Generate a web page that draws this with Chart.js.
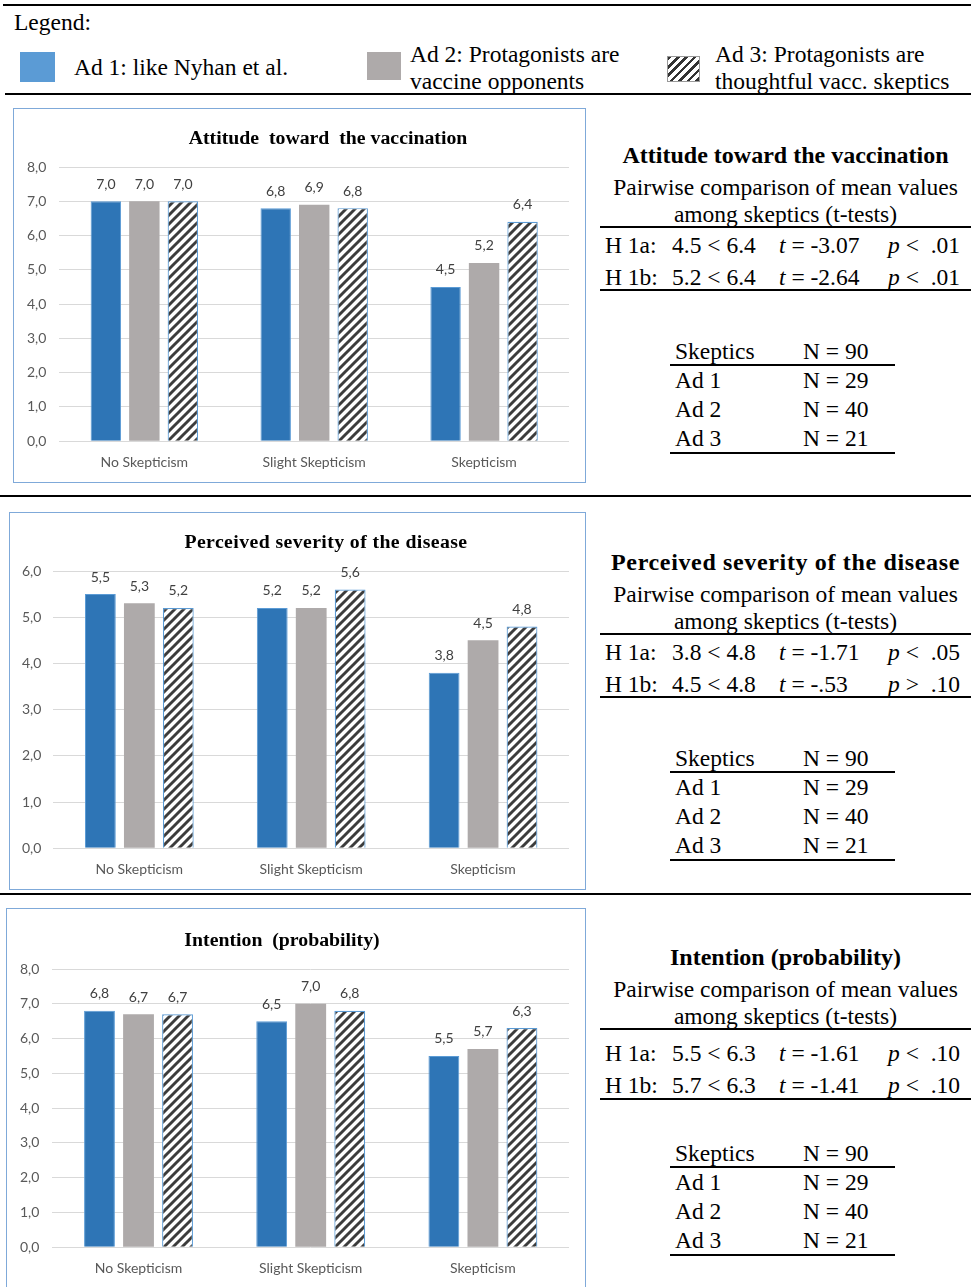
<!DOCTYPE html>
<html>
<head>
<meta charset="utf-8">
<script src="https://cdn.jsdelivr.net/npm/chart.js"></script>
<style>
  body { margin: 0; background: #fff; }
  #page { position: relative; width: 971px; height: 1287px; overflow: hidden; font-family: 'Liberation Serif', 'Times New Roman', serif; color: #000; }
  .abs { position: absolute; white-space: pre; }
  .line { position: absolute; background: #000; }
  .box { position: absolute; border: 1px solid #7fa9d9; box-sizing: border-box; }
  .box canvas { position: absolute; left: 0; top: 0; }
  .ctitle { position: absolute; width: 440px; text-align: center; font-weight: bold; font-size: 19.8px; line-height: 22px; white-space: pre; }
  .t { position: absolute; font-size: 23.5px; line-height: 26px; white-space: pre; }
</style>
</head>
<body>
<div id="page">
  <div class="line" style="left:3px;top:4px;width:968px;height:1.5px"></div>
  <div class="t" style="left:14px;top:9px">Legend:</div>
  <div class="abs" style="left:20px;top:52px;width:35px;height:30px;background:#5b9bd5"></div>
  <div class="t" style="left:74px;top:54px">Ad 1: like Nyhan et al.</div>
  <div class="abs" style="left:367px;top:52px;width:34px;height:28px;background:#aeaaaa"></div>
  <div class="t" style="left:410px;top:41px">Ad 2: Protagonists are</div>
  <div class="t" style="left:410px;top:68px">vaccine opponents</div>
  <div class="abs" style="left:667px;top:56px;width:33px;height:26px;box-sizing:border-box;border:1.5px solid #999;background:repeating-linear-gradient(135deg,#333 0 2.5px,#fff 2.5px 6px)"></div>
  <div class="t" style="left:715px;top:41px">Ad 3: Protagonists are</div>
  <div class="t" style="left:715px;top:68px">thoughtful vacc. skeptics</div>
  <div class="line" style="left:5px;top:93px;width:966px;height:1.5px"></div>
  <div class="line" style="left:0px;top:495px;width:971px;height:1.5px"></div>
  <div class="line" style="left:0px;top:893px;width:971px;height:1.5px"></div>

  <div class="box" id="box1" style="left:13px;top:108px;width:573px;height:375px"><canvas id="graf1" width="573" height="375"></canvas></div>
  <div class="box" id="box2" style="left:9px;top:512px;width:577px;height:378px"><canvas id="graf2" width="577" height="378"></canvas></div>
  <div class="box" id="box3" style="left:6px;top:908px;width:580px;height:381px"><canvas id="graf3" width="580" height="381"></canvas></div>

  <div class="ctitle" style="left:108px;top:126px">Attitude  toward  the vaccination</div>
  <div class="ctitle" style="left:106px;top:530px;letter-spacing:0.4px">Perceived severity of the disease</div>
  <div class="ctitle" style="left:62px;top:928px">Intention  (probability)</div>
</div>

<script>
const categorias = ['No Skepticism', 'Slight Skepticism', 'Skepticism'];
const seriesNombres = ['Ad 1: like Nyhan et al.', 'Ad 2: Protagonists are vaccine opponents', 'Ad 3: Protagonists are thoughtful vacc. skeptics'];

// Attitude toward the vaccination
const actitudAd1 = [7.0, 6.8, 4.5];
const actitudAd2 = [7.0, 6.9, 5.2];
const actitudAd3 = [7.0, 6.8, 6.4];

// Perceived severity of the disease
const severidadAd1 = [5.5, 5.2, 3.8];
const severidadAd2 = [5.3, 5.2, 4.5];
const severidadAd3 = [5.2, 5.6, 4.8];

// Intention (probability)
const intencionAd1 = [6.8, 6.5, 5.5];
const intencionAd2 = [6.7, 7.0, 5.7];
const intencionAd3 = [6.7, 6.8, 6.3];

const titulosDerecha = ['Attitude toward the vaccination', 'Perceived severity of the disease', 'Intention (probability)'];
const hipotesis = ['H 1a:', 'H 1b:'];
const comparaciones = [['4.5 < 6.4', '5.2 < 6.4'], ['3.8 < 4.8', '4.5 < 4.8'], ['5.5 < 6.3', '5.7 < 6.3']];
const valoresT = [['-3.07', '-2.64'], ['-1.71', '-.53'], ['-1.61', '-1.41']];
const valoresP = [['<  .01', '<  .01'], ['<  .05', '>  .10'], ['<  .10', '<  .10']];
const grupos = ['Skeptics', 'Ad 1', 'Ad 2', 'Ad 3'];
const tamanos = [90, 29, 40, 21];

const page = document.querySelector('#page');

const addDiv = (cls, style, text) => {
    const d = document.createElement('div');
    d.className = cls;
    d.style.cssText = style;
    if (text !== undefined) d.textContent = text;
    page.appendChild(d);
    return d;
};

// right-hand tables
const offsets = [0, 407, 802];
offsets.forEach((off, k) => {
    const spacing = k === 1 ? 'letter-spacing:0.65px;' : '';
    addDiv('t', `left:600px;width:371px;text-align:center;top:${142 + off}px;font-weight:bold;font-size:24px;${spacing}`, titulosDerecha[k]);
    addDiv('t', `left:600px;width:371px;text-align:center;top:${174 + off}px`, 'Pairwise comparison of mean values');
    addDiv('t', `left:600px;width:371px;text-align:center;top:${201 + off}px`, 'among skeptics (t-tests)');
    addDiv('line', `left:600px;width:371px;top:${226 + off}px;height:2px`);
    const filasY = k === 2 ? [238, 270] : [232, 264];
    filasY.forEach((y, i) => {
        addDiv('t', `left:605px;top:${y + off}px`, hipotesis[i]);
        addDiv('t', `left:672px;top:${y + off}px`, comparaciones[k][i]);
        const tDiv = addDiv('t', `left:779px;top:${y + off}px`);
        tDiv.innerHTML = `<i>t</i> = ${valoresT[k][i]}`;
        const pDiv = addDiv('t', `left:888px;top:${y + off}px`);
        pDiv.innerHTML = `<i>p</i> ${valoresP[k][i]}`;
    });
    addDiv('line', `left:600px;width:371px;top:${(k === 2 ? 296 : 289) + off}px;height:2px`);

    const tablaY = [338, 367, 396, 425];
    grupos.forEach((g, i) => {
        addDiv('t', `left:675px;top:${tablaY[i] + off}px`, g);
        addDiv('t', `left:803px;top:${tablaY[i] + off}px`, `N = ${tamanos[i]}`);
    });
    addDiv('line', `left:670px;width:225px;top:${364 + off}px;height:2px`);
    addDiv('line', `left:670px;width:225px;top:${452 + off}px;height:2px`);
});

// hatch pattern for Ad 3
const rayado = (() => {
    const c = document.createElement('canvas');
    c.width = 9; c.height = 9;
    const g = c.getContext('2d');
    g.fillStyle = '#fff';
    g.fillRect(0, 0, 9, 9);
    g.strokeStyle = '#3c3c3c';
    g.lineWidth = 2.9;
    g.beginPath();
    g.moveTo(-1, 10); g.lineTo(10, -1);
    g.moveTo(-1, 1); g.lineTo(1, -1);
    g.moveTo(8, 10); g.lineTo(10, 8);
    g.stroke();
    return g.createPattern(c, 'repeat');
})();

const etiquetas = {
    id: 'etiquetas',
    afterDatasetsDraw(chart) {
        const ctx = chart.ctx;
        ctx.save();
        ctx.font = '14px Lato';
        ctx.fillStyle = '#404040';
        ctx.textAlign = 'center';
        ctx.textBaseline = 'middle';
        chart.data.datasets.forEach((ds, i) => {
            chart.getDatasetMeta(i).data.forEach((bar, j) => {
                ctx.fillText(ds.data[j].toFixed(1).replace('.', ','), bar.x, bar.y - 17);
            });
        });
        ctx.restore();
    }
};

const graficar = (id, d1, d2, d3, max, pad, tickPad) => {
    new Chart(document.querySelector(id), {
        type: 'bar',
        data: {
            labels: categorias,
            datasets: [
                { label: seriesNombres[0], data: d1, backgroundColor: '#2e75b6', borderColor: '#5b9bd5', borderWidth: 1 },
                { label: seriesNombres[1], data: d2, backgroundColor: '#aeaaaa', borderWidth: 0 },
                { label: seriesNombres[2], data: d3, backgroundColor: rayado, borderColor: '#5b9bd5', borderWidth: 1.2 }
            ]
        },
        options: {
            responsive: false,
            animation: false,
            categoryPercentage: 0.68,
            barPercentage: 0.79,
            layout: { padding: pad },
            plugins: { legend: { display: false }, tooltip: { enabled: false } },
            scales: {
                x: {
                    grid: { display: false, drawTicks: false },
                    border: { display: false },
                    ticks: { color: '#595959', font: { family: 'Lato', size: 14 }, padding: 13 }
                },
                y: {
                    min: 0,
                    max: max,
                    grid: { color: '#d9d9d9', drawTicks: false },
                    border: { display: false },
                    ticks: {
                        stepSize: 1,
                        color: '#595959',
                        font: { family: 'Lato', size: 14 },
                        padding: tickPad,
                        callback: v => v.toFixed(1).replace('.', ',')
                    }
                }
            }
        },
        plugins: [etiquetas]
    });
};

graficar('#graf1', actitudAd1, actitudAd2, actitudAd3, 8, { top: 58, bottom: 0, left: 0, right: 18 }, 13);
graficar('#graf2', severidadAd1, severidadAd2, severidadAd3, 6, { top: 58, bottom: 0, left: 0, right: 18 }, 12);
graficar('#graf3', intencionAd1, intencionAd2, intencionAd3, 8, { top: 60, bottom: 0, left: 0, right: 18 }, 13);
</script>
</body>
</html>
